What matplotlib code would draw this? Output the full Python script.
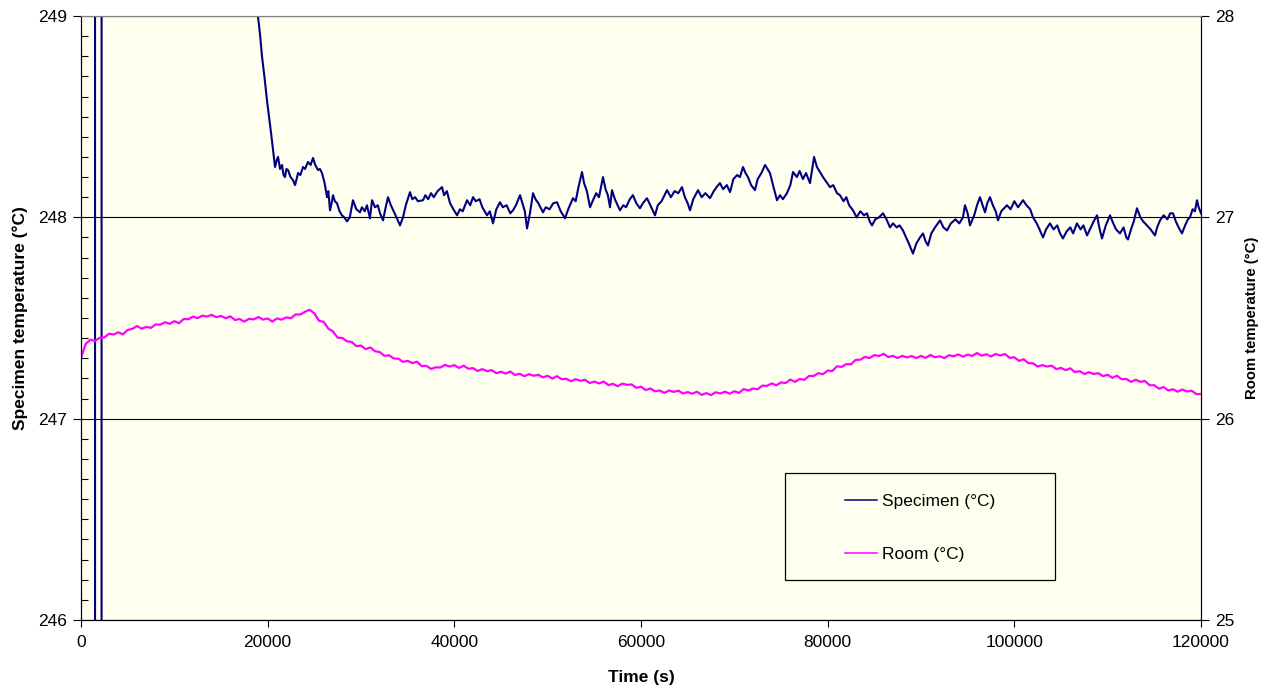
import numpy as np
import matplotlib
matplotlib.use("Agg")
import matplotlib.pyplot as plt
from matplotlib.patches import Rectangle
from matplotlib.ticker import MultipleLocator

plt.rcParams['font.family'] = ['Liberation Sans', 'DejaVu Sans']

# Specimen temperature (left axis)
spec_time = [
    0, 1500, 1510, 2200, 2210, 10000, 17000, 18000, 18500, 18960,
    19200, 19390, 19650, 19930, 20150, 20360, 20570, 20790, 20950, 21110,
    21330, 21540, 21700, 21860, 22000, 22180, 22450, 22710, 22930, 23100,
    23250, 23500, 23790, 24000, 24320, 24600, 24860, 25100, 25390, 25600,
    25820, 26100, 26360, 26500, 26680, 26850, 27000, 27200, 27430, 27700,
    27960, 28200, 28500, 28800, 29140, 29500, 29890, 30100, 30400, 30640,
    30960, 31180, 31500, 31800, 32040, 32360, 32600, 32890, 33200, 33500,
    33800, 34180, 34500, 34800, 35250, 35500, 35800, 36100, 36640, 36900,
    37200, 37500, 37800, 38200, 38680, 38900, 39200, 39540, 39900, 40290,
    40600, 40900, 41360, 41700, 42000, 42300, 42700, 43000, 43500, 43800,
    44140, 44500, 44890, 45200, 45600, 46000, 46290, 46600, 47040, 47300,
    47550, 47790, 48100, 48430, 48700, 49000, 49500, 49800, 50200, 50600,
    51000, 51400, 51860, 52200, 52710, 53000, 53300, 53680, 53900, 54200,
    54540, 54900, 55200, 55500, 55930, 56200, 56450, 56680, 56890, 57200,
    57500, 57750, 58100, 58400, 58800, 59140, 59500, 59890, 60200, 60640,
    61000, 61500, 61800, 62200, 62790, 63200, 63600, 64000, 64390, 64700,
    65000, 65250, 65600, 66110, 66500, 66900, 67390, 67800, 68100, 68460,
    68800, 69200, 69540, 69900, 70300, 70600, 70930, 71200, 71460, 71800,
    72210, 72500, 72900, 73290, 73550, 73820, 74200, 74570, 74900, 75200,
    75640, 76000, 76290, 76700, 77000, 77350, 77680, 78110, 78540, 78850,
    79180, 79500, 79800, 80250, 80600, 81000, 81320, 81700, 82000, 82300,
    82710, 83100, 83500, 83900, 84210, 84500, 84750, 85100, 85500, 85930,
    86300, 86680, 87000, 87400, 87700, 88070, 88400, 88700, 89140, 89500,
    89890, 90210, 90500, 90750, 91100, 91500, 92040, 92400, 92790, 93200,
    93700, 94100, 94500, 94710, 95000, 95250, 95700, 96000, 96320, 96600,
    96860, 97100, 97390, 97700, 98000, 98250, 98600, 99210, 99600, 100000,
    100400, 100930, 101300, 101700, 102000, 102400, 102700, 103070, 103400, 103820,
    104200, 104600, 104900, 105210, 105600, 106000, 106300, 106710, 107100, 107400,
    107790, 108200, 108500, 108860, 109100, 109390, 109800, 110250, 110600, 110900,
    111320, 111700, 112000, 112180, 112500, 112800, 113140, 113500, 113800, 114210,
    114600, 115070, 115300, 115610, 116000, 116400, 116700, 117000, 117300, 117600,
    117960, 118300, 118600, 118820, 119100, 119350, 119570, 119750, 120000,
]
spec_temp = [
    262, 262, 235, 235, 262, 256, 250.8, 249.8, 249.35, 249.0,
    248.90, 248.80, 248.70, 248.58, 248.50, 248.42, 248.335, 248.25, 248.28, 248.30,
    248.24, 248.26, 248.21, 248.20, 248.24, 248.235, 248.20, 248.185, 248.16, 248.19,
    248.22, 248.21, 248.25, 248.24, 248.275, 248.26, 248.295, 248.26, 248.235, 248.24,
    248.22, 248.17, 248.10, 248.13, 248.035, 248.07, 248.11, 248.08, 248.07, 248.03,
    248.01, 248.00, 247.98, 248.00, 248.085, 248.04, 248.025, 248.05, 248.03, 248.06,
    247.995, 248.085, 248.05, 248.06, 248.02, 247.985, 248.04, 248.10, 248.06, 248.03,
    248.00, 247.96, 248.00, 248.06, 248.125, 248.09, 248.10, 248.08, 248.085, 248.11,
    248.09, 248.12, 248.10, 248.13, 248.15, 248.11, 248.13, 248.07, 248.04, 248.01,
    248.04, 248.03, 248.085, 248.06, 248.10, 248.08, 248.09, 248.05, 248.01, 248.03,
    247.97, 248.04, 248.075, 248.05, 248.06, 248.02, 248.035, 248.06, 248.11, 248.07,
    248.03, 247.945, 248.02, 248.12, 248.09, 248.07, 248.025, 248.05, 248.04, 248.07,
    248.075, 248.03, 247.995, 248.04, 248.095, 248.08, 248.15, 248.225, 248.17, 248.13,
    248.05, 248.09, 248.12, 248.10, 248.20, 248.14, 248.11, 248.05, 248.135, 248.09,
    248.06, 248.035, 248.06, 248.05, 248.09, 248.11, 248.07, 248.045, 248.07, 248.095,
    248.06, 248.01, 248.06, 248.08, 248.135, 248.10, 248.13, 248.12, 248.15, 248.10,
    248.07, 248.035, 248.09, 248.135, 248.10, 248.12, 248.095, 248.13, 248.15, 248.17,
    248.14, 248.16, 248.125, 248.19, 248.21, 248.20, 248.25, 248.22, 248.20, 248.16,
    248.135, 248.19, 248.22, 248.26, 248.24, 248.22, 248.15, 248.085, 248.11, 248.09,
    248.12, 248.16, 248.225, 248.20, 248.23, 248.19, 248.22, 248.17, 248.30, 248.25,
    248.225, 248.20, 248.18, 248.15, 248.16, 248.12, 248.11, 248.08, 248.10, 248.06,
    248.035, 248.00, 248.03, 248.01, 248.02, 247.98, 247.96, 247.99, 248.00, 248.02,
    247.99, 247.95, 247.97, 247.95, 247.96, 247.935, 247.90, 247.87, 247.82, 247.87,
    247.90, 247.92, 247.88, 247.86, 247.92, 247.95, 247.985, 247.95, 247.935, 247.97,
    247.99, 247.97, 248.00, 248.06, 248.02, 247.96, 248.01, 248.06, 248.10, 248.06,
    248.025, 248.07, 248.10, 248.06, 248.03, 247.985, 248.03, 248.06, 248.04, 248.08,
    248.05, 248.085, 248.06, 248.04, 248.00, 247.97, 247.94, 247.90, 247.94, 247.97,
    247.94, 247.96, 247.92, 247.895, 247.93, 247.95, 247.92, 247.97, 247.94, 247.96,
    247.91, 247.95, 247.98, 248.01, 247.95, 247.895, 247.96, 248.01, 247.97, 247.94,
    247.92, 247.95, 247.90, 247.89, 247.94, 247.98, 248.045, 248.00, 247.98, 247.96,
    247.94, 247.91, 247.95, 247.985, 248.01, 247.99, 248.02, 248.02, 247.98, 247.95,
    247.92, 247.96, 247.99, 248.00, 248.04, 248.03, 248.085, 248.05, 248.02,
]

# Room temperature (right axis), one reading every 500 s
room_time = np.arange(0, 120001, 500)
room_temp = [
    26.302, 26.371, 26.392, 26.386, 26.402, 26.403, 26.422, 26.418, 26.429, 26.419,
    26.441, 26.446, 26.460, 26.447, 26.456, 26.451, 26.468, 26.467, 26.479, 26.471,
    26.484, 26.474, 26.495, 26.494, 26.507, 26.499, 26.512, 26.507, 26.516, 26.504,
    26.510, 26.499, 26.508, 26.490, 26.495, 26.482, 26.496, 26.493, 26.505, 26.492,
    26.498, 26.482, 26.498, 26.492, 26.503, 26.499, 26.518, 26.517, 26.531, 26.541,
    26.523, 26.486, 26.481, 26.447, 26.433, 26.402, 26.401, 26.384, 26.381, 26.360,
    26.363, 26.345, 26.354, 26.335, 26.331, 26.312, 26.315, 26.299, 26.298, 26.282,
    26.287, 26.276, 26.283, 26.261, 26.263, 26.247, 26.255, 26.254, 26.267, 26.259,
    26.266, 26.252, 26.263, 26.248, 26.251, 26.237, 26.246, 26.236, 26.241, 26.226,
    26.233, 26.224, 26.234, 26.217, 26.223, 26.211, 26.221, 26.213, 26.218, 26.205,
    26.213, 26.199, 26.211, 26.196, 26.198, 26.186, 26.196, 26.188, 26.193, 26.177,
    26.184, 26.175, 26.184, 26.167, 26.173, 26.161, 26.174, 26.168, 26.170, 26.153,
    26.159, 26.142, 26.150, 26.136, 26.140, 26.128, 26.140, 26.133, 26.139, 26.125,
    26.132, 26.124, 26.134, 26.118, 26.127, 26.117, 26.131, 26.125, 26.134, 26.124,
    26.136, 26.128, 26.147, 26.140, 26.150, 26.146, 26.164, 26.163, 26.175, 26.166,
    26.180, 26.177, 26.194, 26.183, 26.197, 26.193, 26.212, 26.212, 26.226, 26.221,
    26.239, 26.237, 26.260, 26.257, 26.271, 26.270, 26.292, 26.293, 26.307, 26.301,
    26.316, 26.311, 26.322, 26.306, 26.312, 26.301, 26.312, 26.304, 26.311, 26.301,
    26.312, 26.302, 26.316, 26.305, 26.310, 26.301, 26.315, 26.310, 26.319, 26.308,
    26.318, 26.312, 26.326, 26.313, 26.320, 26.309, 26.321, 26.314, 26.321, 26.302,
    26.305, 26.287, 26.295, 26.276, 26.275, 26.259, 26.266, 26.259, 26.263, 26.246,
    26.252, 26.241, 26.250, 26.231, 26.236, 26.222, 26.231, 26.222, 26.226, 26.211,
    26.218, 26.203, 26.213, 26.196, 26.197, 26.183, 26.193, 26.183, 26.187, 26.166,
    26.166, 26.149, 26.157, 26.140, 26.146, 26.134, 26.145, 26.135, 26.139, 26.122,
    26.122,
]

x_ticks = [0, 20000, 40000, 60000, 80000, 100000, 120000]
left_ticks = [246, 247, 248, 249]
right_ticks = [25, 26, 27, 28]

W, H = 1274, 689
fig = plt.figure(figsize=(W / 100, H / 100), dpi=100)
ax = fig.add_axes([81 / W, 69 / H, 1120 / W, 604 / H])
ax.set_facecolor('#FFFFF0')

spec_line, = ax.plot(spec_time, spec_temp, color='#000080', lw=1.5, zorder=3)
ax.set_xlim(0, 120000)
ax.set_ylim(246, 249)
ax.set_xticks(x_ticks)
ax.set_xticklabels([str(t) for t in x_ticks])
ax.set_yticks(left_ticks)
ax.yaxis.set_minor_locator(MultipleLocator(0.1))
ax.grid(axis='y', which='major', color='black', lw=0.8)
ax.set_xlabel('Time (s)', fontsize=12.5, fontweight='bold', labelpad=14)
ax.set_ylabel('Specimen temperature (°C)', fontsize=12.5, fontweight='bold', labelpad=7)
ax.spines['top'].set_color('#808080')

ax2 = ax.twinx()
room_line, = ax2.plot(room_time, room_temp, color='#FF00FF', lw=1.6)
ax2.set_ylim(25, 28)
ax2.set_yticks(right_ticks)
ax2.tick_params(axis='y', direction='out', length=6, width=0.8, labelsize=12.5, pad=4)
ax2.set_ylabel('Room temperature (°C)', fontsize=10.7, fontweight='bold', labelpad=8)
ax2.spines['top'].set_color('#808080')

# tick styling after twinx so it is not reset
ax.tick_params(axis='y', which='major', direction='out', length=6, width=0.8, labelsize=12.5, pad=4)
ax.tick_params(axis='y', which='minor', direction='in', length=5, width=0.8)
ax.tick_params(axis='x', direction='out', length=5, width=0.8, labelsize=12.5, pad=6)

# legend box
fig.add_artist(Rectangle((785 / W, 1 - 580 / H), 270 / W, 107 / H, transform=fig.transFigure,
                         facecolor='#FFFFF0', edgecolor='black', lw=0.9, zorder=1))
fig.legend([spec_line, room_line], ['Specimen (°C)', 'Room (°C)'], loc='upper left',
           bbox_to_anchor=(845 / W, 1 - 494 / H), frameon=False, fontsize=12.5,
           borderpad=0, borderaxespad=0, handlelength=1.85, handletextpad=0.3, labelspacing=2.2)
for h in fig.legends[0].legend_handles:
    h.set_linewidth(1.1)

fig.savefig('out.png', dpi=100)
